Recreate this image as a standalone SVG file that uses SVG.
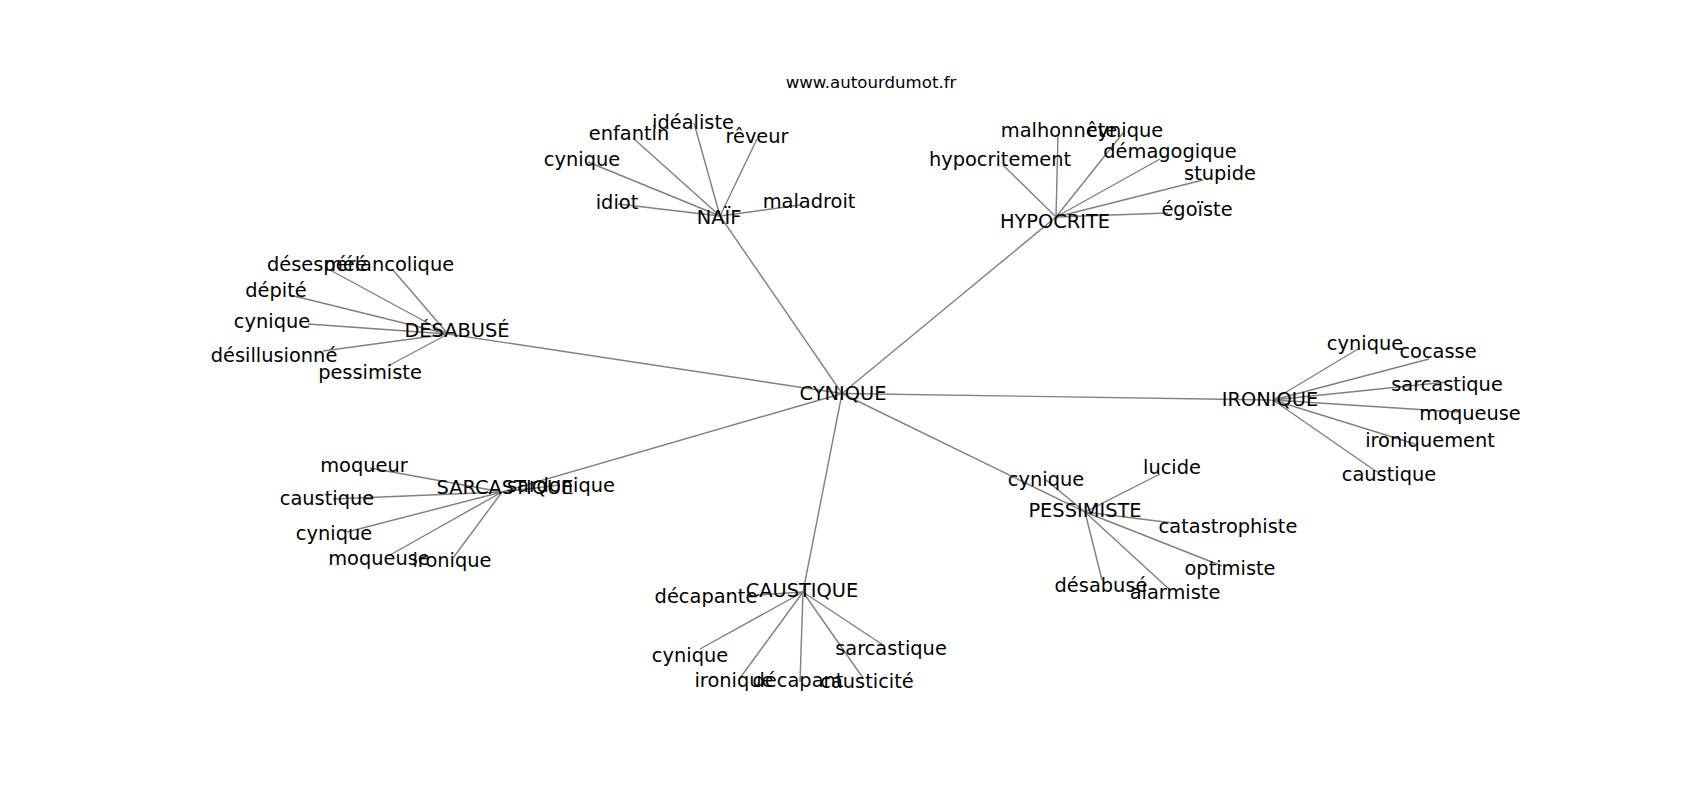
<svg xmlns="http://www.w3.org/2000/svg" width="1700" height="800" viewBox="0 0 1700 800">
<style>
.e{stroke:#808080;stroke-width:1.4;fill:none}
text{font-family:"DejaVu Sans","Liberation Sans",sans-serif;font-size:19.4px;fill:#000;text-anchor:middle}
.t{font-size:16.6px}
</style>
<rect width="1700" height="800" fill="#fff"/>
<text class="t" x="871" y="88">www.autourdumot.fr</text>
<g id="edges">
<line class="e" x1="842" y1="393.5" x2="720" y2="216"/>
<line class="e" x1="842" y1="393.5" x2="1056" y2="217"/>
<line class="e" x1="842" y1="393.5" x2="448" y2="334"/>
<line class="e" x1="842" y1="393.5" x2="502" y2="492"/>
<line class="e" x1="842" y1="393.5" x2="803" y2="592"/>
<line class="e" x1="842" y1="393.5" x2="1085" y2="512"/>
<line class="e" x1="842" y1="393.5" x2="1273" y2="400"/>
<line class="e" x1="720" y1="216" x2="694" y2="123"/>
<line class="e" x1="720" y1="216" x2="633" y2="138"/>
<line class="e" x1="720" y1="216" x2="757" y2="139"/>
<line class="e" x1="720" y1="216" x2="588" y2="162"/>
<line class="e" x1="720" y1="216" x2="618" y2="204"/>
<line class="e" x1="720" y1="216" x2="800" y2="205"/>
<line class="e" x1="1056" y1="217" x2="1003" y2="165"/>
<line class="e" x1="1056" y1="217" x2="1058" y2="135"/>
<line class="e" x1="1056" y1="217" x2="1123" y2="133"/>
<line class="e" x1="1056" y1="217" x2="1160" y2="159"/>
<line class="e" x1="1056" y1="217" x2="1203" y2="180"/>
<line class="e" x1="1056" y1="217" x2="1168" y2="213"/>
<line class="e" x1="448" y1="334" x2="330" y2="270"/>
<line class="e" x1="448" y1="334" x2="393" y2="270"/>
<line class="e" x1="448" y1="334" x2="290" y2="295"/>
<line class="e" x1="448" y1="334" x2="308" y2="324"/>
<line class="e" x1="448" y1="334" x2="323" y2="351"/>
<line class="e" x1="448" y1="334" x2="388" y2="366"/>
<line class="e" x1="502" y1="492" x2="370" y2="468"/>
<line class="e" x1="502" y1="492" x2="333" y2="499"/>
<line class="e" x1="502" y1="492" x2="347" y2="532"/>
<line class="e" x1="502" y1="492" x2="390" y2="555"/>
<line class="e" x1="502" y1="492" x2="453" y2="558"/>
<line class="e" x1="502" y1="492" x2="560" y2="485"/>
<line class="e" x1="803" y1="592" x2="757" y2="595"/>
<line class="e" x1="803" y1="592" x2="700" y2="649"/>
<line class="e" x1="803" y1="592" x2="740" y2="678"/>
<line class="e" x1="803" y1="592" x2="800" y2="682"/>
<line class="e" x1="803" y1="592" x2="863" y2="678"/>
<line class="e" x1="803" y1="592" x2="883" y2="645"/>
<line class="e" x1="1085" y1="512" x2="1046" y2="480"/>
<line class="e" x1="1085" y1="512" x2="1160" y2="474"/>
<line class="e" x1="1085" y1="512" x2="1173" y2="523"/>
<line class="e" x1="1085" y1="512" x2="1222" y2="566"/>
<line class="e" x1="1085" y1="512" x2="1170" y2="590"/>
<line class="e" x1="1085" y1="512" x2="1102" y2="580"/>
<line class="e" x1="1273" y1="400" x2="1358" y2="349"/>
<line class="e" x1="1273" y1="400" x2="1429" y2="359"/>
<line class="e" x1="1273" y1="400" x2="1447" y2="382"/>
<line class="e" x1="1273" y1="400" x2="1458" y2="412"/>
<line class="e" x1="1273" y1="400" x2="1415" y2="444"/>
<line class="e" x1="1273" y1="400" x2="1377" y2="472"/>
</g>
<g id="n-cynique"><text x="843" y="400">CYNIQUE</text></g>
<g id="n-naif"><text x="719" y="224">NAÏF</text></g>
<g id="n-naif-idealiste"><text x="693" y="129">idéaliste</text></g>
<g id="n-naif-enfantin"><text x="629" y="140">enfantin</text></g>
<g id="n-naif-reveur"><text x="757" y="143">rêveur</text></g>
<g id="n-naif-cynique"><text x="582" y="166">cynique</text></g>
<g id="n-naif-idiot"><text x="617" y="209">idiot</text></g>
<g id="n-naif-maladroit"><text x="809" y="208">maladroit</text></g>
<g id="n-hypocrite"><text x="1055" y="228">HYPOCRITE</text></g>
<g id="n-hyp-hypocritement"><text x="1000" y="166">hypocritement</text></g>
<g id="n-hyp-malhonnete"><text x="1059" y="137">malhonnête</text></g>
<g id="n-hyp-cynique"><text x="1125" y="137">cynique</text></g>
<g id="n-hyp-demagogique"><text x="1170" y="158">démagogique</text></g>
<g id="n-hyp-stupide"><text x="1220" y="180">stupide</text></g>
<g id="n-hyp-egoiste"><text x="1197" y="216">égoïste</text></g>
<g id="n-desabuse"><text x="457" y="337">DÉSABUSÉ</text></g>
<g id="n-des-desespere"><text x="317" y="271">désespéré</text></g>
<g id="n-des-melancolique"><text x="389" y="271">mélancolique</text></g>
<g id="n-des-depite"><text x="276" y="297">dépité</text></g>
<g id="n-des-cynique"><text x="272" y="328">cynique</text></g>
<g id="n-des-desillusionne"><text x="274" y="362">désillusionné</text></g>
<g id="n-des-pessimiste"><text x="370" y="379">pessimiste</text></g>
<g id="n-sarcastique"><text x="505" y="494">SARCASTIQUE</text></g>
<g id="n-sar-moqueur"><text x="364" y="472">moqueur</text></g>
<g id="n-sar-caustique"><text x="327" y="505">caustique</text></g>
<g id="n-sar-cynique"><text x="334" y="540">cynique</text></g>
<g id="n-sar-moqueuse"><text x="379" y="565">moqueuse</text></g>
<g id="n-sar-ironique"><text x="452" y="567">ironique</text></g>
<g id="n-sar-sardonique"><text x="561" y="492">sardonique</text></g>
<g id="n-caustique"><text x="802" y="597">CAUSTIQUE</text></g>
<g id="n-cau-decapante"><text x="706" y="603">décapante</text></g>
<g id="n-cau-cynique"><text x="690" y="662">cynique</text></g>
<g id="n-cau-ironique"><text x="734" y="687">ironique</text></g>
<g id="n-cau-decapant"><text x="798" y="687">décapant</text></g>
<g id="n-cau-causticite"><text x="867" y="688">causticité</text></g>
<g id="n-cau-sarcastique"><text x="891" y="655">sarcastique</text></g>
<g id="n-pessimiste"><text x="1085" y="517">PESSIMISTE</text></g>
<g id="n-pes-cynique"><text x="1046" y="486">cynique</text></g>
<g id="n-pes-lucide"><text x="1172" y="474">lucide</text></g>
<g id="n-pes-catastrophiste"><text x="1228" y="533">catastrophiste</text></g>
<g id="n-pes-optimiste"><text x="1230" y="575">optimiste</text></g>
<g id="n-pes-alarmiste"><text x="1175" y="599">alarmiste</text></g>
<g id="n-pes-desabuse"><text x="1101" y="592">désabusé</text></g>
<g id="n-ironique"><text x="1270" y="406">IRONIQUE</text></g>
<g id="n-iro-cynique"><text x="1365" y="350">cynique</text></g>
<g id="n-iro-cocasse"><text x="1438" y="358">cocasse</text></g>
<g id="n-iro-sarcastique"><text x="1447" y="391">sarcastique</text></g>
<g id="n-iro-moqueuse"><text x="1470" y="420">moqueuse</text></g>
<g id="n-iro-ironiquement"><text x="1430" y="447">ironiquement</text></g>
<g id="n-iro-caustique"><text x="1389" y="481">caustique</text></g>
</svg>
